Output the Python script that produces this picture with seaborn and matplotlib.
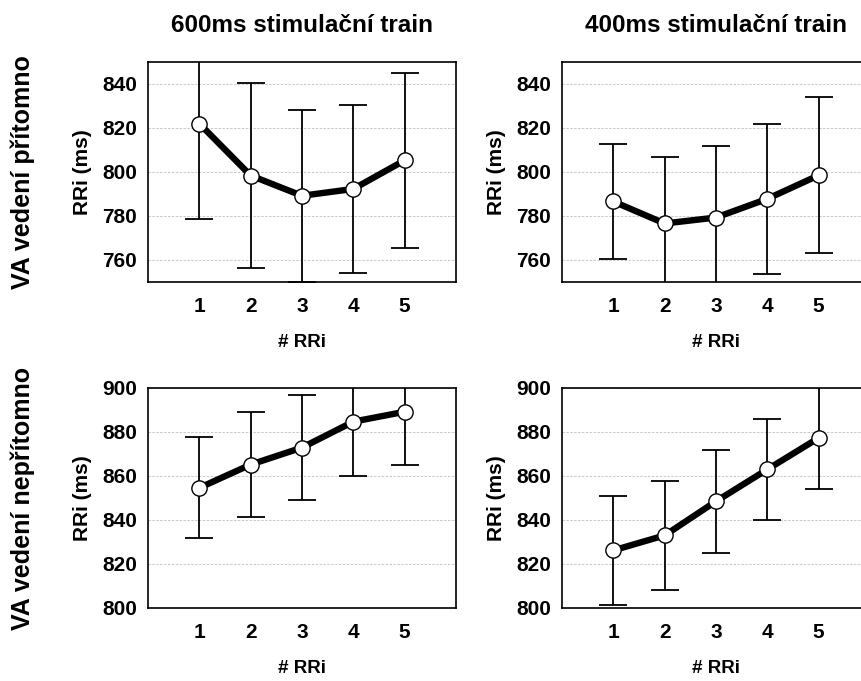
import matplotlib
matplotlib.use("Agg")
import matplotlib.pyplot as plt
import numpy as np
import pandas as pd
import seaborn as sns

# RR interval index after the stimulation train
rr_index = [1, 2, 3, 4, 5]

# VA conduction present
mean_600_present = [822.0, 798.4, 789.2, 792.3, 805.3]
err_600_present = [43.5, 42.2, 39.2, 38.0, 39.7]
mean_400_present = [786.6, 776.6, 779.3, 787.8, 798.5]
err_400_present = [26.2, 30.4, 32.6, 34.2, 35.5]

# VA conduction absent
mean_600_absent = [854.6, 865.2, 872.9, 884.7, 889.2]
err_600_absent = [22.9, 23.7, 24.0, 24.8, 24.0]
mean_400_absent = [826.2, 833.0, 848.5, 863.0, 877.3]
err_400_absent = [24.7, 24.7, 23.5, 23.1, 23.1]

col_titles = ["600ms stimulační train", "400ms stimulační train"]
row_titles = ["VA vedení přítomno", "VA vedení nepřítomno"]
yticks_present = [760, 780, 800, 820, 840]
yticks_absent = [800, 820, 840, 860, 880, 900]

sns.set_theme(style="white")
plt.rcParams["font.family"] = ["Liberation Sans", "DejaVu Sans"]
plt.rcParams["font.weight"] = "bold"
plt.rcParams["text.color"] = "black"
plt.rcParams["axes.labelcolor"] = "black"
plt.rcParams["xtick.color"] = "black"
plt.rcParams["ytick.color"] = "black"

fig = plt.figure(figsize=(8.61, 6.81), dpi=100)
W, H = 861.0, 681.0
aw, ah = 308 / W, 220 / H
lefts = [148 / W, 562 / W]
bottoms = [1 - 282 / H, 1 - 608 / H]

panels = [
    (0, 0, mean_600_present, err_600_present, (750, 850), yticks_present),
    (0, 1, mean_400_present, err_400_present, (750, 850), yticks_present),
    (1, 0, mean_600_absent, err_600_absent, (800, 900), yticks_absent),
    (1, 1, mean_400_absent, err_400_absent, (800, 900), yticks_absent),
]

for r, c, means, errs, ylim, yticks in panels:
    ax = fig.add_axes([lefts[c], bottoms[r], aw, ah])
    df = pd.DataFrame({"RRi": rr_index, "value": means})
    ax.errorbar(df["RRi"], df["value"], yerr=errs, fmt="none",
                ecolor="black", elinewidth=1.3, capsize=10, capthick=1.3,
                zorder=2)
    sns.lineplot(data=df, x="RRi", y="value", ax=ax, color="black",
                 linewidth=4.6, marker="o", markersize=11,
                 markerfacecolor="white", markeredgecolor="black",
                 markeredgewidth=1.0, zorder=3, legend=False)
    ax.set_xlim(0, 6)
    ax.set_ylim(*ylim)
    ax.set_xticks(rr_index)
    ax.set_yticks(yticks)
    ax.yaxis.grid(True, linestyle=(0, (2.5, 1.5)), color="#c8c8c8",
                  linewidth=0.7)
    ax.xaxis.grid(False)
    ax.set_axisbelow(True)
    for sp in ax.spines.values():
        sp.set_color("black")
        sp.set_linewidth(1.2)
    ax.tick_params(axis="x", direction="inout", length=5, width=1.0,
                   color="black", pad=8, labelsize=15)
    ax.tick_params(axis="y", length=0, pad=8, labelsize=15)
    for lab in ax.get_xticklabels() + ax.get_yticklabels():
        lab.set_fontweight("bold")
    ax.set_xlabel("# RRi", fontsize=13.5, fontweight="bold", labelpad=13)
    ax.set_ylabel("RRi (ms)", fontsize=15, fontweight="bold", labelpad=7)

for c, t in enumerate(col_titles):
    fig.text(lefts[c] + aw / 2, 1 - 32 / H, t, ha="center", va="baseline",
             fontsize=17.5, fontweight="bold")

for r, t in enumerate(row_titles):
    fig.text(23 / W, bottoms[r] + ah / 2, t, ha="center", va="center",
             rotation=90, fontsize=18, fontweight="bold")

fig.savefig("out.png", dpi=100)
